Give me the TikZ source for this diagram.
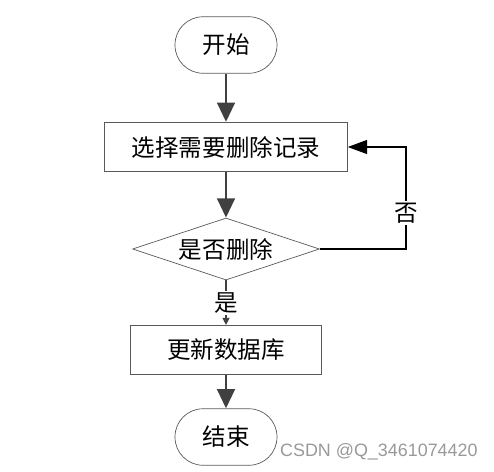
\documentclass[tikz,border=0pt]{standalone}
\usepackage{fontspec}
\newfontfamily\cjk{Noto Sans CJK SC}
\newfontfamily\wmfont{Liberation Sans}
\usetikzlibrary{shapes.geometric,arrows.meta}

\begin{document}
\begin{tikzpicture}[x=0.02cm,y=-0.02cm,>={Triangle[length=11pt,width=10pt]},
  every node/.style={font=\cjk\fontsize{13.4}{16}\selectfont},
  term/.style={draw=black!65,rounded corners=0.56cm,minimum width=2.04cm,minimum height=1.13cm,inner sep=0pt},
  proc/.style={draw=black!65,minimum height=0.99cm,inner sep=0pt},
  dec/.style={draw=black!65,diamond,aspect=3,inner sep=0pt,minimum width=3.74cm,minimum height=1.24cm},
  flow/.style={->,line width=1.7pt,draw=black!75},
  yes/.style={-{Triangle[length=4pt,width=4pt]},line width=0.7pt,draw=black!75},
  back/.style={-{Triangle[length=11pt,width=8pt]},line width=0.6pt}]
  \useasboundingbox (0,0) rectangle (494,471);
  \node[term] (start) at (226,45) {开始};
  \node[proc,minimum width=4.86cm] (pick) at (226,147) {选择需要删除记录};
  \node[dec] (ask) at (226,249) {是否删除};
  \node[proc,minimum width=3.83cm] (upd) at (226,350) {更新数据库};
  \node[term] (stop) at (226,437) {结束};
  \coordinate (turn) at (406,249);

  \draw[flow] (start) -- (pick);
  \draw[flow] (pick) -- (ask);
  \draw[yes] (ask) -- node[fill=white,inner sep=1pt] (yeslbl) {是} (upd);
  \draw[flow] (upd) -- (stop);
  \draw[back] (ask.east) -- (turn) |- node[pos=0.175,fill=white,inner sep=1pt] (nolbl) {否} (pick.east);

  \node[font=\wmfont\fontsize{10.2}{12}\selectfont,text=black!40,anchor=east,inner sep=0pt] (mark) at (478,452) {CSDN @Q\_3461074420};
\end{tikzpicture}
\end{document}
